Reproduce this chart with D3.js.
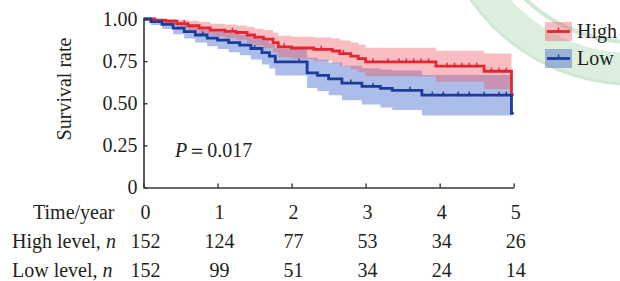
<!DOCTYPE html>
<html><head><meta charset="utf-8">
<script src="https://cdn.jsdelivr.net/npm/d3@7"></script>
<style>
html,body{margin:0;padding:0;background:#fff;}
svg{display:block;}
svg text{font-family:"Liberation Serif","Tinos","Times New Roman","Times","Nimbus Roman","DejaVu Serif",serif !important;fill:#231f20;}
</style></head>
<body><svg id="chart" width="620" height="281"></svg>
<script>
// ---- data ----
const yearTicks = [0, 1, 2, 3, 4, 5];
const yTicks = [0, 0.25, 0.5, 0.75, 1];
const groups = ["High", "Low"];

const highTime  = [0, 0.15, 0.30, 0.45, 0.60, 0.75, 0.90, 1.10, 1.25, 1.40, 1.50, 1.62, 1.75, 1.82, 2.00, 2.30, 2.55, 2.65, 2.80, 2.90, 3.00, 3.95, 4.60, 4.97, 5.00];
const highSurv  = [1.000, 0.993, 0.987, 0.973, 0.960, 0.947, 0.934, 0.927, 0.920, 0.905, 0.892, 0.880, 0.860, 0.835, 0.828, 0.820, 0.810, 0.795, 0.780, 0.765, 0.745, 0.720, 0.690, 0.550, 0.550];
const highLower = [1.000, 0.980, 0.970, 0.950, 0.930, 0.912, 0.897, 0.887, 0.877, 0.858, 0.842, 0.826, 0.802, 0.773, 0.764, 0.752, 0.738, 0.720, 0.702, 0.684, 0.660, 0.628, 0.585, 0.585, 0.585];
const highUpper = [1.000, 1.000, 1.000, 0.995, 0.990, 0.982, 0.972, 0.967, 0.962, 0.952, 0.942, 0.934, 0.918, 0.900, 0.895, 0.890, 0.885, 0.872, 0.860, 0.848, 0.830, 0.812, 0.795, 0.795, 0.795];
const highCensor = [0.55, 1.2, 1.9, 2.4, 2.7, 3.1, 3.3, 3.45, 3.55, 3.65, 3.75, 3.85, 4.1, 4.2, 4.3, 4.4, 4.5, 4.7, 4.8, 4.9];

const lowTime  = [0, 0.10, 0.25, 0.40, 0.55, 0.70, 0.86, 1.00, 1.15, 1.30, 1.45, 1.60, 1.70, 1.78, 2.21, 2.35, 2.50, 2.68, 2.95, 3.20, 3.36, 3.76, 4.97, 5.00];
const lowSurv  = [1.000, 0.985, 0.968, 0.946, 0.925, 0.905, 0.887, 0.875, 0.860, 0.845, 0.825, 0.800, 0.780, 0.745, 0.680, 0.665, 0.645, 0.620, 0.600, 0.588, 0.577, 0.548, 0.440, 0.440];
const lowLower = [1.000, 0.965, 0.940, 0.910, 0.884, 0.860, 0.838, 0.822, 0.803, 0.785, 0.760, 0.730, 0.706, 0.665, 0.590, 0.572, 0.548, 0.518, 0.492, 0.475, 0.460, 0.428, 0.428, 0.428];
const lowUpper = [1.000, 1.000, 0.995, 0.982, 0.966, 0.950, 0.936, 0.928, 0.917, 0.905, 0.890, 0.870, 0.854, 0.825, 0.770, 0.758, 0.742, 0.722, 0.708, 0.700, 0.694, 0.668, 0.668, 0.668];
const lowCensor = [0.8, 1.5, 2.1, 2.8, 3.1, 3.6, 3.9, 4.05, 4.25, 4.4, 4.6, 4.8, 4.9];

const riskHigh = [152, 124, 77, 53, 34, 26];
const riskLow  = [152, 99, 51, 34, 24, 14];
const rowLabels = ["Time/year", "High level, ", "Low level, "];

// ---- layout ----
const svg = d3.select("#chart");
const x = d3.scaleLinear().domain([0, 5]).range([143.5, 513.7]);
const y = d3.scaleLinear().domain([0, 1]).range([187.5, 19]);
const ink = "#3b3233";

// watermark (faint stamp ring)
const wm = svg.append("g");
wm.append("circle").attr("cx", 632).attr("cy", -112).attr("r", 180)
  .attr("fill", "none").attr("stroke", "#dcefdf").attr("stroke-width", 30);
wm.append("circle").attr("cx", 632).attr("cy", -112).attr("r", 196)
  .attr("fill", "none").attr("stroke", "#cfe7d4").attr("stroke-width", 3);
wm.append("circle").attr("cx", 632).attr("cy", -112).attr("r", 154)
  .attr("fill", "none").attr("stroke", "#cfe7d4").attr("stroke-width", 4);

const colors = {High: {line: "#e3262f", band: "rgba(238,80,92,0.38)"},
                Low:  {line: "#1c3c9c", band: "rgba(50,90,200,0.40)"}};

function series(t, s, lo, hi) {
  return t.map((d, i) => ({t: d, s: s[i], lo: lo[i], hi: hi[i]}));
}
const data = {High: series(highTime, highSurv, highLower, highUpper),
              Low: series(lowTime, lowSurv, lowLower, lowUpper)};
const censors = {High: highCensor, Low: lowCensor};

const area = d3.area().curve(d3.curveStepAfter)
  .x(d => x(d.t)).y0(d => y(d.lo)).y1(d => y(d.hi));
const line = d3.line().curve(d3.curveStepAfter)
  .x(d => x(d.t)).y(d => y(d.s));

const plot = svg.append("g");
["Low", "High"].forEach(g => {
  const pts = data[g].slice(0, -2).concat([{...data[g][data[g].length - 3], t: 4.97}]);
  plot.append("path").datum(pts)
    .attr("d", area).attr("fill", colors[g].band).attr("stroke", "none");
});
function survAt(g, t) {
  const arr = data[g];
  let v = arr[0].s;
  for (const d of arr) { if (d.t <= t) v = d.s; }
  return v;
}
["High", "Low"].forEach(g => {
  plot.append("path").datum(data[g]).attr("d", line)
    .attr("fill", "none").attr("stroke", colors[g].line).attr("stroke-width", 2.8);
  plot.selectAll(null).data(censors[g]).enter().append("line")
    .attr("x1", d => x(d)).attr("x2", d => x(d))
    .attr("y1", d => y(survAt(g, d)) - 3.5).attr("y2", d => y(survAt(g, d)) + 1)
    .attr("stroke", colors[g].line).attr("stroke-width", 1.5);
});

// axes
const yAxis = d3.axisLeft(y).tickValues(yTicks).tickSizeInner(-4).tickSizeOuter(0).tickPadding(6)
  .tickFormat(d => d === 0 ? "0" : d3.format(".2f")(d));
const gy = svg.append("g").attr("transform", `translate(${x(0)},0)`).call(yAxis);
gy.select(".domain").attr("stroke", ink).attr("stroke-width", 1.6);
gy.selectAll(".tick line").attr("stroke", ink).attr("stroke-width", 1.4);
gy.selectAll(".tick text").attr("font-size", 20);

const xAxis = d3.axisBottom(x).tickValues(yearTicks).tickSizeInner(-4).tickSizeOuter(0).tickFormat("");
const gx = svg.append("g").attr("transform", `translate(0,${y(0)})`).call(xAxis);
gx.select(".domain").attr("stroke", ink).attr("stroke-width", 1.6);
gx.selectAll(".tick line").attr("stroke", ink).attr("stroke-width", 1.4);

// y title
svg.append("text").attr("transform", "translate(71,89) rotate(-90)")
  .attr("text-anchor", "middle").attr("font-size", 20).text("Survival rate");

// P value
const pt = svg.append("text").attr("x", 175).attr("y", 157).attr("font-size", 20);
pt.append("tspan").attr("font-style", "italic").text("P");
pt.append("tspan").text("\uFF1D0.017");

// legend
const legY = {High: 31.5, Low: 58.5};
groups.forEach(g => {
  const lg = svg.append("g");
  lg.append("rect").attr("x", 545).attr("y", legY[g] - 9.5).attr("width", 27).attr("height", 19)
    .attr("fill", colors[g].band);
  lg.append("line").attr("x1", 547).attr("x2", 570).attr("y1", legY[g]).attr("y2", legY[g])
    .attr("stroke", colors[g].line).attr("stroke-width", 2.8);
  lg.append("line").attr("x1", 558.5).attr("x2", 558.5).attr("y1", legY[g] - 4).attr("y2", legY[g])
    .attr("stroke", colors[g].line).attr("stroke-width", 1.5);
  lg.append("text").attr("x", 577).attr("y", legY[g] + 6.5).attr("font-size", 20).text(g);
});

// risk table
const rowY = [219, 248, 277];
const rowX = [33, 12, 12];
rowLabels.forEach((lab, i) => {
  const t = svg.append("text").attr("x", rowX[i]).attr("y", rowY[i]).attr("font-size", 20).text(lab);
  if (i > 0) t.append("tspan").attr("font-style", "italic").text("n");
});
const rows = [yearTicks, riskHigh, riskLow];
rows.forEach((vals, r) => {
  svg.selectAll(null).data(vals).enter().append("text")
    .attr("x", (d, i) => x(yearTicks[i]) + 2)
    .attr("y", rowY[r]).attr("text-anchor", "middle").attr("font-size", 20)
    .text(d => d);
});
</script></body></html>
